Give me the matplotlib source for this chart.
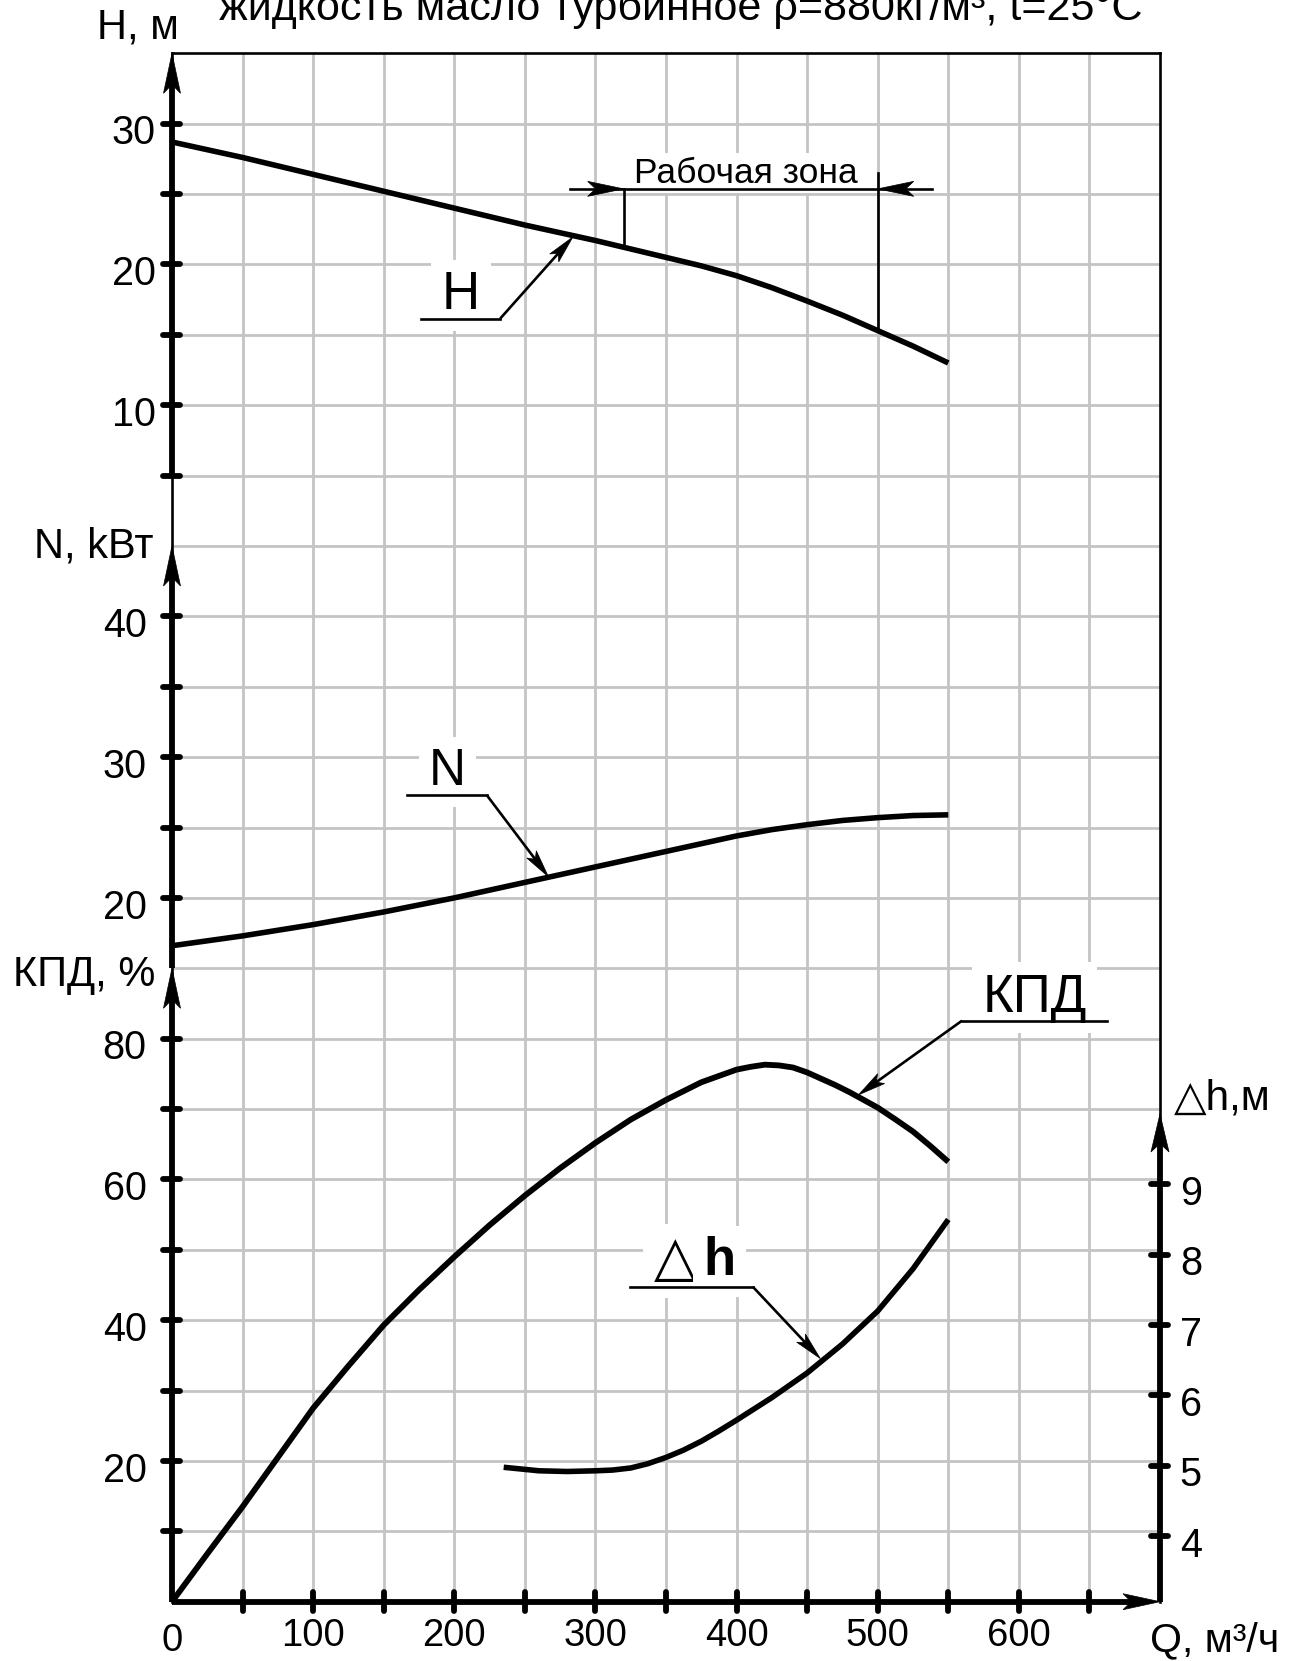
import numpy as np
import matplotlib.pyplot as plt
from matplotlib.patches import Polygon

plt.rcParams['font.family'] = ['Liberation Sans', 'DejaVu Sans']

# values
q_h = [0, 50, 100, 150, 200, 250, 300, 350, 375, 400, 425, 450, 475, 500, 525, 550]
head_m = [28.7, 27.6, 26.4, 25.2, 24.0, 22.8, 21.7, 20.5, 19.9, 19.2, 18.35, 17.4, 16.4, 15.3, 14.2, 13.0]

q_n = [0, 50, 100, 150, 200, 250, 300, 350, 375, 400, 425, 450, 475, 500, 525, 550]
power_kw = [16.6, 17.3, 18.1, 19.0, 20.0, 21.1, 22.2, 23.3, 23.85, 24.4, 24.85, 25.2, 25.5, 25.7, 25.85, 25.9]

q_eff = [0, 25, 50, 75, 100, 125, 150, 175, 200, 225, 250, 275, 300, 325, 350,
         375, 400, 410, 420, 430, 440, 450, 460, 470, 480, 490, 500, 512, 525, 537, 550]
eff_pct = [0, 6.8, 13.5, 20.5, 27.5, 33.5, 39.3, 44.3, 49.0, 53.5, 57.7, 61.6, 65.2,
           68.5, 71.3, 73.8, 75.6, 76.0, 76.3, 76.2, 75.9, 75.2, 74.3, 73.4, 72.4, 71.3,
           70.2, 68.6, 66.8, 64.8, 62.5]

q_dh = [235, 260, 280, 300, 312, 325, 337, 350, 362, 375, 387, 400, 425, 450, 475, 500, 525, 550]
dh_m = [4.98, 4.93, 4.92, 4.93, 4.94, 4.97, 5.03, 5.12, 5.22, 5.35, 5.49, 5.65, 5.97, 6.32,
        6.73, 7.2, 7.8, 8.5]

work_zone = [320, 500]

x_ticks = list(range(50, 700, 50))
x_labels = [0, 100, 200, 300, 400, 500, 600]
h_ticks = [5, 10, 15, 20, 25, 30]
h_labels = [10, 20, 30]
n_ticks = [20, 25, 30, 35, 40]
n_labels = [20, 30, 40]
eff_ticks = [10, 20, 30, 40, 50, 60, 70, 80]
eff_labels = [20, 40, 60, 80]
dh_ticks = [4, 5, 6, 7, 8, 9]

title = 'жидкость масло турбинное ρ=880кг/м³, t=25°C'

fig = plt.figure(figsize=(12.95, 16.61), dpi=100)
rect = [172 / 1295, 59.3 / 1661, 988 / 1295, 1548.4 / 1661]

ax_k = fig.add_axes(rect)            # efficiency, also the grid
ax_n = fig.add_axes(rect)            # power
ax_h = fig.add_axes(rect)            # head
ax_d = fig.add_axes(rect)            # NPSH
ax_k.set_ylim(0, 220)
ax_n.set_ylim(-30, 80)
ax_h.set_ylim(-75, 35)
ax_d.set_ylim(3.07, 25.07)
for a in (ax_k, ax_n, ax_h, ax_d):
    a.set_xlim(0, 700)
    a.axis('off')
    a.patch.set_alpha(0)

GRID = '#c4c4c4'
THICK = 4.2
THIN = 1.9


def arrow(ax, start, tip, lw, L, W, line=True):
    # line + notched arrow head, L and W in pixels
    T = ax.transData
    p0 = T.transform(start)
    p1 = T.transform(tip)
    d = (p1 - p0) / np.hypot(*(p1 - p0))
    n = np.array([-d[1], d[0]])
    base = p1 - d * L
    pts = np.array([p1, base + n * W / 2, p1 - d * L * 0.78, base - n * W / 2])
    pts = T.inverted().transform(pts)
    if line:
        end = T.inverted().transform(p1 - d * L * 0.7)
        ax.plot([start[0], end[0]], [start[1], end[1]], color='k', lw=lw,
                solid_capstyle='butt', clip_on=False, zorder=5)
    ax.add_patch(Polygon(pts, closed=True, fc='k', ec='k', lw=0.5, zorder=6, clip_on=False))


# grid
for q in x_ticks:
    ax_k.plot([q, q], [0, 220], color=GRID, lw=2, zorder=1)
for y in range(10, 220, 10):
    ax_k.plot([0, 700], [y, y], color=GRID, lw=2, zorder=1)

# frame
ax_k.plot([0, 700], [220, 220], color='k', lw=THIN, zorder=2, clip_on=False)
ax_k.plot([0, 0], [0, 220], color='k', lw=THIN, zorder=2, clip_on=False)
ax_k.plot([700, 700], [0, 220], color='k', lw=THIN, zorder=2, clip_on=False)

# x axis
arrow(ax_k, (0, 0), (700, 0), THICK, 37, 16)
for q in x_ticks:
    ax_k.plot([q, q], [-1.38, 1.38], color='k', lw=THICK, solid_capstyle='round', clip_on=False, zorder=5)
for v in x_labels:
    ax_k.text(v, -7.0 if v == 0 else -6.3, str(v), ha='center', va='baseline', fontsize=27.5)
ax_k.text(693, -7.0, 'Q, м³/ч', ha='left', va='baseline', fontsize=29.5)

# left axes
def ytick(ax, x, vals):
    for v in vals:
        ax.plot([x - 6.4, x + 5.8], [v, v], color='k', lw=THICK, solid_capstyle='round', clip_on=False, zorder=5)

arrow(ax_k, (0, 0), (0, 90), THICK, 40, 17)
ytick(ax_k, 0, eff_ticks)
for v in eff_labels:
    ax_k.text(-18, v - 0.8, str(v), ha='right', va='center_baseline', fontsize=28.5)
ax_k.text(-12, 87.5, 'КПД, %', ha='right', va='baseline', fontsize=30)

arrow(ax_n, (0, 15), (0, 45), THICK, 40, 17)
ytick(ax_n, 0, n_ticks)
for v in n_labels:
    ax_n.text(-18, v - 0.4, str(v), ha='right', va='center_baseline', fontsize=28.5)
ax_n.text(-13, 44.15, 'N, kВт', ha='right', va='baseline', fontsize=30)

arrow(ax_h, (0, 5), (0, 35), THICK, 40, 17)
ytick(ax_h, 0, h_ticks)
for v in h_labels:
    ax_h.text(-11.5, v - 0.4, str(v), ha='right', va='center_baseline', fontsize=28.5)
ax_k.text(-24, 222.1, 'H, м', ha='center', va='baseline', fontsize=30)

# right axis
arrow(ax_d, (700, 3.07), (700, 10.0), THICK, 38, 18)
ytick(ax_d, 700, dh_ticks)
for v in dh_ticks:
    ax_d.text(714, v - 0.08, str(v), ha='left', va='center_baseline', fontsize=28.5)
ax_d.text(710, 10.06, '△h,м', ha='left', va='baseline', fontsize=30.5)

# curves
ax_h.plot(q_h, head_m, color='k', lw=4, solid_capstyle='butt', zorder=4)
ax_n.plot(q_n, power_kw, color='k', lw=4, solid_capstyle='butt', zorder=4)
ax_k.plot(q_eff, eff_pct, color='k', lw=4.2, solid_capstyle='butt', zorder=4)
ax_d.plot(q_dh, dh_m, color='k', lw=4, solid_capstyle='butt', zorder=4)

# working zone
dim_h = 25.37
h_left = np.interp(work_zone[0], q_h, head_m)
h_right = np.interp(work_zone[1], q_h, head_m)
ax_h.plot([work_zone[0], work_zone[0]], [h_left, dim_h], color='k', lw=THIN, zorder=5)
ax_h.plot([work_zone[1], work_zone[1]], [h_right, 26.5], color='k', lw=THIN, zorder=5)
ax_h.plot([282, 538.6], [dim_h, dim_h], color='k', lw=THIN, zorder=5)
arrow(ax_h, (282, dim_h), (work_zone[0], dim_h), THIN, 36, 15, line=False)
arrow(ax_h, (538.6, dim_h), (work_zone[1], dim_h), THIN, 36, 15, line=False)
ax_h.text(406.7, 25.8, 'Рабочая зона', ha='center', va='baseline', fontsize=25.5,
          bbox=dict(boxstyle='square,pad=0.1', fc='white', ec='none'), zorder=3)

# curve labels
wbox = dict(boxstyle='square,pad=0.2', fc='white', ec='none')
ax_h.text(204.7, 16.8, 'H', ha='center', va='baseline', fontsize=38, bbox=wbox, zorder=3)
ax_h.plot([176.2, 232.5], [16.15, 16.15], color='k', lw=THIN, zorder=5)
arrow(ax_h, (232.5, 16.15), (284, 21.95), THIN, 28, 12)

ax_n.text(195.2, 28.0, 'N', ha='center', va='baseline', fontsize=37, bbox=wbox, zorder=3)
ax_n.plot([166.8, 223], [27.3, 27.3], color='k', lw=THIN, zorder=5)
arrow(ax_n, (223, 27.3), (266.7, 21.5), THIN, 28, 12)

ax_k.text(611, 83.8, 'КПД', ha='center', va='baseline', fontsize=38, bbox=wbox, zorder=3)
ax_k.plot([559.7, 662.4], [82.55, 82.55], color='k', lw=THIN, zorder=5)
arrow(ax_k, (559.7, 82.55), (486.3, 72.0), THIN, 28, 12)

ax_d.text(356.5, 7.71, '△', ha='center', va='baseline', fontsize=40, bbox=wbox, zorder=3)
ax_d.text(376.3, 7.71, 'h', ha='left', va='baseline', fontsize=38, fontweight='bold', bbox=wbox, zorder=3)
ax_d.plot([324.6, 411.5], [7.545, 7.545], color='k', lw=THIN, zorder=5)
arrow(ax_d, (411.5, 7.545), (459.3, 6.525), THIN, 28, 12)

# title (cut by the top edge like the source)
ax_k.text(360.7, 224.8, title, ha='center', va='baseline', fontsize=31)

fig.savefig('out.png', dpi=100)
